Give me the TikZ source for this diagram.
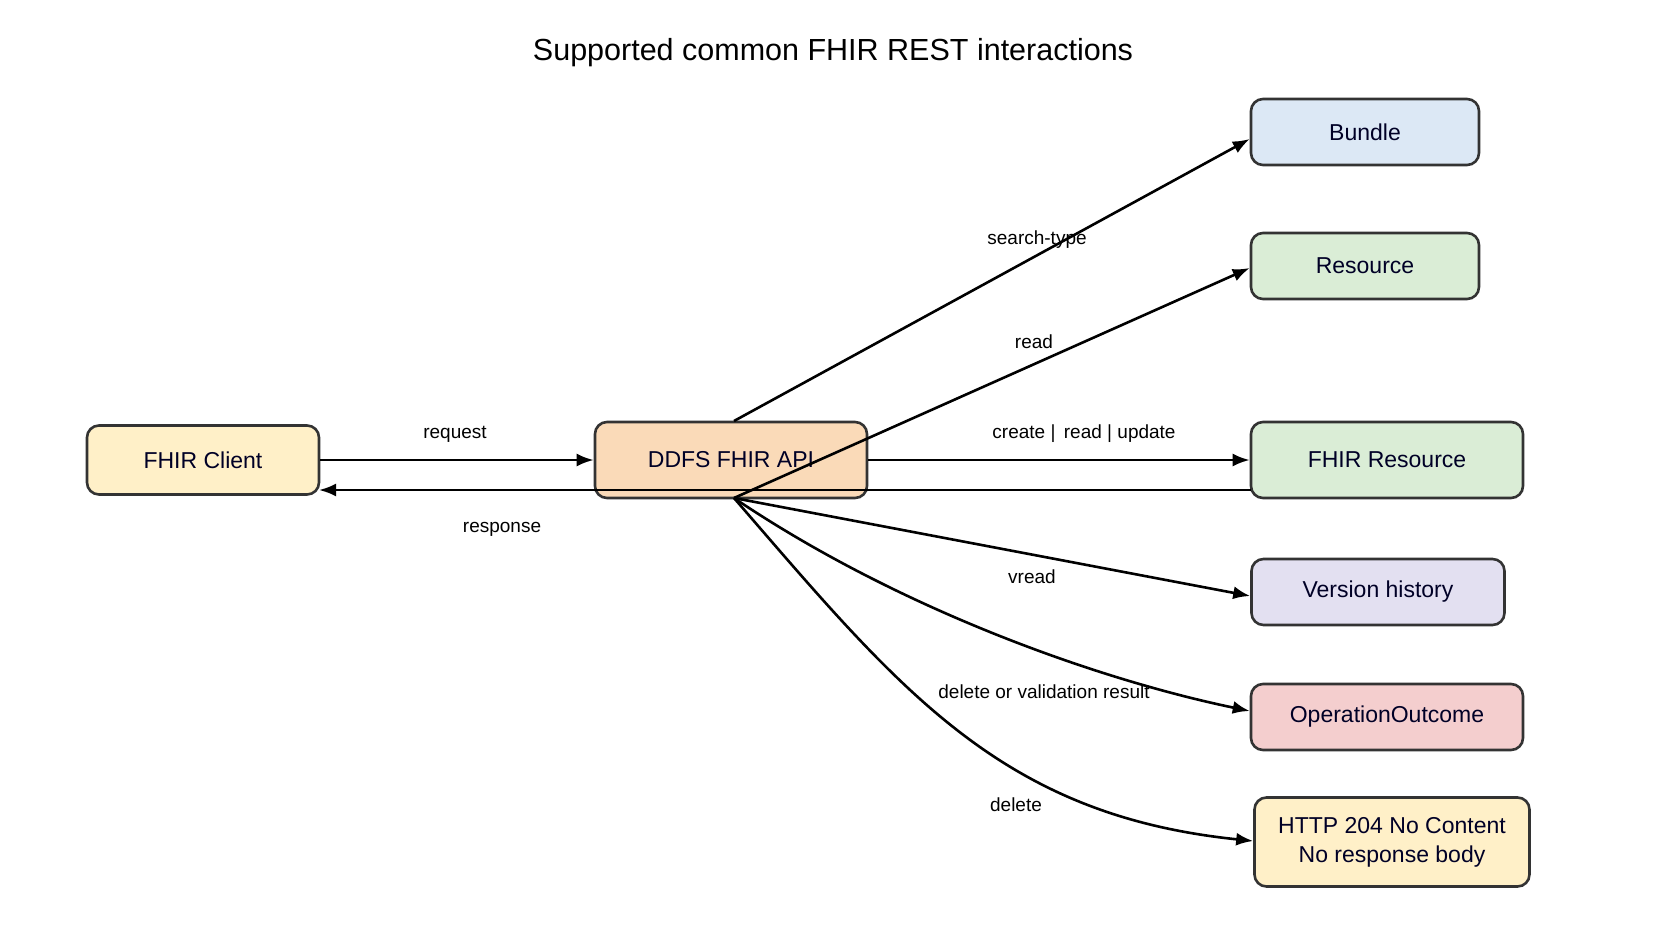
\documentclass[tikz,border=0pt]{standalone}
\usepackage{fontspec}
\setmainfont{Liberation Sans}
\usetikzlibrary{arrows.meta}
\definecolor{cYel}{HTML}{FFF0C8}
\definecolor{cOra}{HTML}{FADAB8}
\definecolor{cBlu}{HTML}{DCE8F5}
\definecolor{cGrn}{HTML}{DAEDD6}
\definecolor{cLil}{HTML}{E3E0F1}
\definecolor{cRed}{HTML}{F4CECE}
\definecolor{cEdge}{HTML}{333333}
\begin{document}
\begin{tikzpicture}[x=1pt,y=-1pt,
  box/.style={draw=cEdge,line width=2.6pt,rounded corners=12pt,inner sep=0pt,align=center,font=\fontsize{23}{29}\selectfont,text=black!85!blue},
  lab/.style={font=\fontsize{19}{22}\selectfont,inner sep=1pt},
  conn/.style={line width=2.6pt,-{Latex[length=17pt,width=13pt]}}]
\path[use as bounding box,fill=white] (0,0) rectangle (1668,943);
\node[font=\fontsize{30.5}{34}\selectfont] (title) at (833,53) {Supported common FHIR REST interactions};
\node[box,fill=cYel,minimum width=232pt,minimum height=69pt] (client) at (203,460) {FHIR Client};
\node[box,fill=cOra,minimum width=272pt,minimum height=76pt] (api) at (731,460) {DDFS FHIR API};
\node[box,fill=cBlu,minimum width=228pt,minimum height=66pt] (bundle) at (1365,132) {Bundle};
\node[box,fill=cGrn,minimum width=228pt,minimum height=66pt] (res) at (1365,266) {Resource};
\node[box,fill=cGrn,minimum width=272pt,minimum height=76pt] (fres) at (1387,460) {FHIR Resource};
\node[box,fill=cLil,minimum width=253pt,minimum height=66pt] (ver) at (1378,592) {Version history};
\node[box,fill=cRed,minimum width=272pt,minimum height=66pt] (oo) at (1387,717) {OperationOutcome};
\node[box,fill=cYel,minimum width=275pt,minimum height=89pt] (http) at (1392,842) {HTTP 204 No Content\\No response body};
\coordinate (ro) at (1251,490);
\coordinate (re) at (319,490);
\draw[conn] (ro) -- (re);
\coordinate (src) at (734,498);
\coordinate (top) at (734,421);
\draw[conn] (client.east) -- (api.west);
\draw[conn] (top) -- (bundle.west|-0,139);
\draw[conn] (src) -- (res.west|-0,268);
\draw[conn] (api.east) -- (fres.west);
\draw[conn] (src) -- (ver.west|-0,596);
\draw[conn] (src) .. controls (900,610) and (1100,680) .. (oo.west|-0,711);
\draw[conn] (src) .. controls (900,690) and (1000,815) .. (http.west|-0,841);
\node[lab] (l1) at (1037,240) {search-type};
\node[lab] (l2) at (1034,342) {read};
\node[lab] (l3) at (1084,434) {create |\, read | update};
\node[lab] (l4) at (455,434) {request};
\node[lab] (l5) at (502,529) {response};
\node[lab] (l6) at (1032,577) {vread};
\node[lab] (l7) at (1044,692) {delete or validation result};
\node[lab] (l8) at (1016,805) {delete};
\end{tikzpicture}
\end{document}
